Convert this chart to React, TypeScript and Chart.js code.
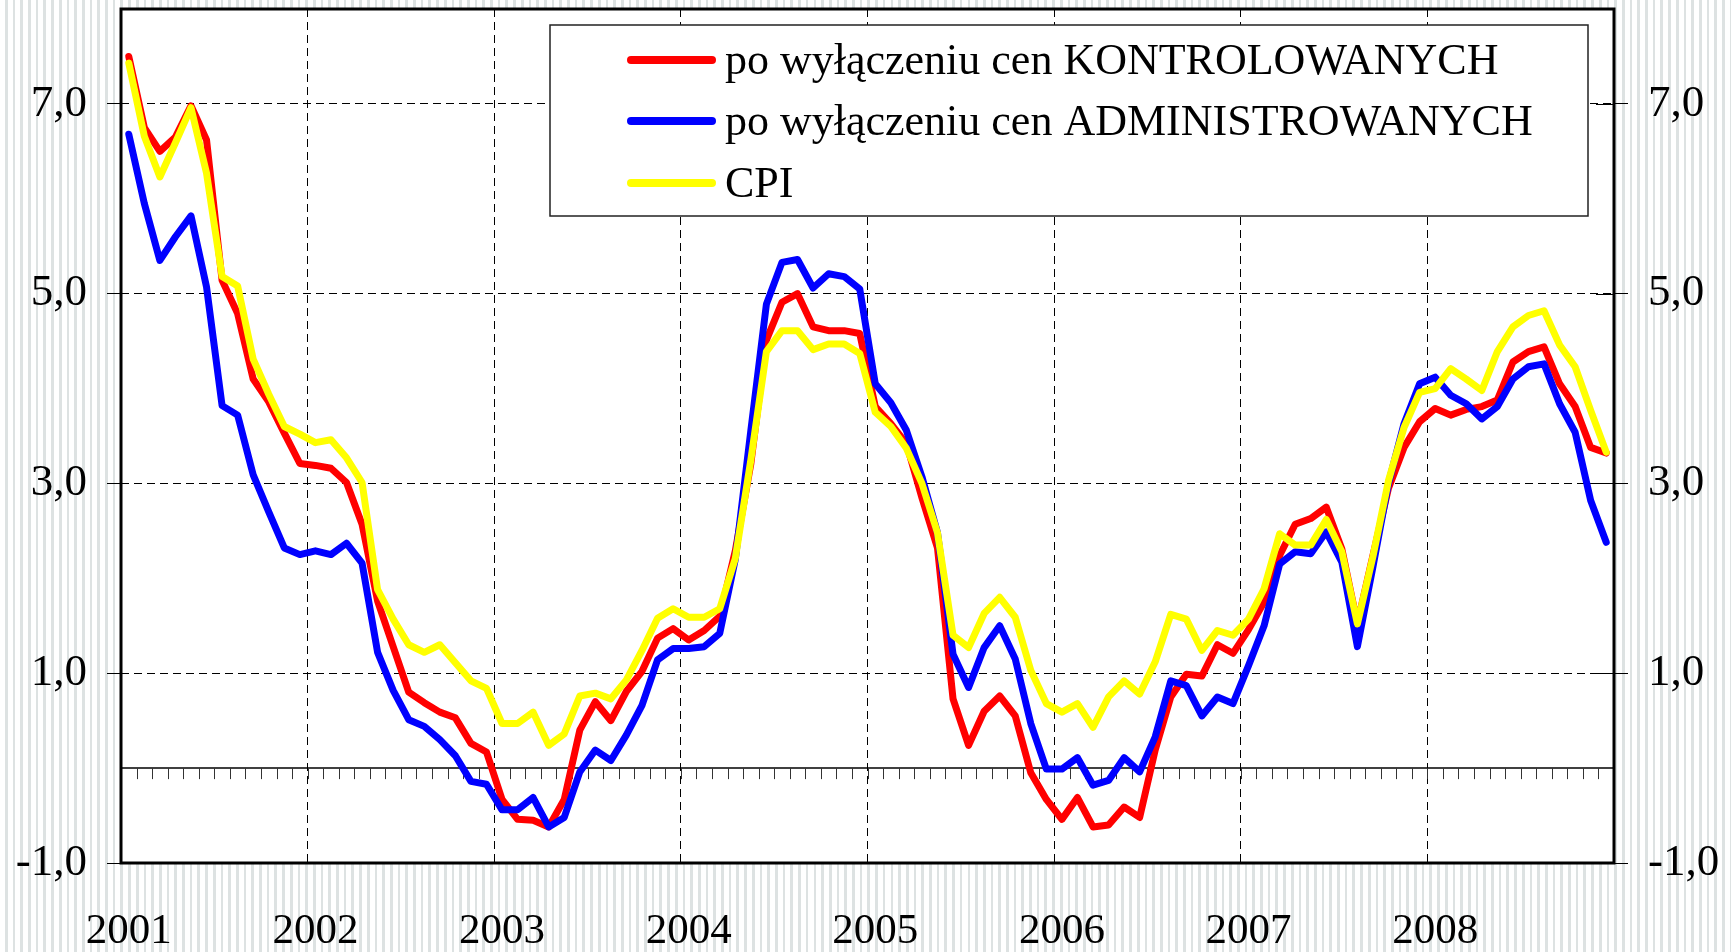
import React, { useEffect, useRef } from 'react';
import { Chart, registerables } from 'chart.js';

Chart.register(...registerables);

// ---------- data ----------
const years = ['2001', '2002', '2003', '2004', '2005', '2006', '2007', '2008'];
const monthsInYear = 12;
const categories = years.flatMap((y) =>
  Array.from({ length: monthsInYear }, (_, m) => `${y}-${String(m + 1).padStart(2, '0')}`)
);

const seriesLabels = [
  'po wyłączeniu cen KONTROLOWANYCH',
  'po wyłączeniu cen ADMINISTROWANYCH',
  'CPI',
];
const seriesColors = ['#ff0000', '#0000ff', '#ffff00'];

const kontrolowane = [
  7.50, 6.75, 6.50, 6.65, 6.98, 6.62, 5.14, 4.79, 4.10, 3.86, 3.53, 3.21,
  3.19, 3.16, 3.01, 2.57, 1.76, 1.28, 0.80, 0.69, 0.59, 0.53, 0.26, 0.17,
  -0.33, -0.54, -0.55, -0.62, -0.33, 0.40, 0.70, 0.50, 0.81, 1.02, 1.37, 1.47,
  1.35, 1.45, 1.60, 2.29, 3.21, 4.51, 4.91, 5.00, 4.65, 4.61, 4.61, 4.58,
  3.81, 3.63, 3.42, 2.85, 2.32, 0.73, 0.24, 0.60, 0.76, 0.55, -0.05, -0.33,
  -0.54, -0.31, -0.62, -0.60, -0.41, -0.52, 0.19, 0.75, 0.99, 0.97, 1.30, 1.21,
  1.46, 1.75, 2.24, 2.57, 2.63, 2.75, 2.31, 1.52, 2.24, 2.95, 3.38, 3.65,
  3.79, 3.72, 3.78, 3.81, 3.88, 4.28, 4.39, 4.44, 4.05, 3.81, 3.38, 3.32,
];

const administrowane = [
  6.68, 5.95, 5.35, 5.60, 5.82, 5.07, 3.82, 3.72, 3.09, 2.70, 2.32, 2.25,
  2.29, 2.25, 2.37, 2.16, 1.22, 0.82, 0.51, 0.44, 0.30, 0.13, -0.14, -0.17,
  -0.44, -0.44, -0.31, -0.62, -0.52, -0.04, 0.19, 0.08, 0.35, 0.66, 1.14, 1.26,
  1.26, 1.28, 1.42, 2.20, 3.56, 4.89, 5.33, 5.36, 5.06, 5.21, 5.18, 5.05,
  4.05, 3.85, 3.56, 3.07, 2.48, 1.20, 0.85, 1.27, 1.50, 1.15, 0.47, -0.01,
  -0.01, 0.11, -0.18, -0.13, 0.11, -0.04, 0.33, 0.92, 0.87, 0.55, 0.75, 0.68,
  1.08, 1.50, 2.15, 2.28, 2.26, 2.49, 2.17, 1.28, 2.12, 3.00, 3.63, 4.05,
  4.12, 3.93, 3.84, 3.68, 3.81, 4.10, 4.23, 4.26, 3.84, 3.54, 2.82, 2.38,
];

const cpi = [
  7.43, 6.66, 6.23, 6.59, 6.96, 6.27, 5.18, 5.08, 4.31, 3.94, 3.60, 3.52,
  3.43, 3.46, 3.27, 3.01, 1.88, 1.57, 1.30, 1.22, 1.30, 1.11, 0.92, 0.84,
  0.47, 0.47, 0.59, 0.24, 0.36, 0.76, 0.79, 0.73, 0.93, 1.24, 1.58, 1.68,
  1.59, 1.59, 1.68, 2.21, 3.25, 4.39, 4.61, 4.61, 4.41, 4.47, 4.47, 4.37,
  3.75, 3.60, 3.37, 3.00, 2.48, 1.40, 1.27, 1.63, 1.80, 1.59, 1.03, 0.68,
  0.59, 0.68, 0.43, 0.75, 0.92, 0.78, 1.12, 1.62, 1.57, 1.24, 1.45, 1.40,
  1.57, 1.89, 2.47, 2.35, 2.35, 2.62, 2.28, 1.52, 2.23, 3.03, 3.59, 3.96,
  4.00, 4.21, 4.10, 3.98, 4.39, 4.65, 4.77, 4.82, 4.46, 4.23, 3.77, 3.33,
];

const yMin = -1;
const yMax = 8;
const yTickValues = [-1, 1, 3, 5, 7];

// ---------- styling ----------
const FONT = "'Liberation Serif', 'Times New Roman', serif";
const W = 1731;
const H = 952;

const plotBackground = {
  id: 'plotBackground',
  beforeDraw(chart: any) {
    const { ctx, chartArea: a } = chart;
    ctx.save();
    ctx.fillStyle = '#ffffff';
    ctx.fillRect(a.left, a.top, a.right - a.left, a.bottom - a.top);
    ctx.restore();
  },
};

const zeroLine = {
  id: 'zeroLine',
  beforeDatasetsDraw(chart: any) {
    const { ctx, chartArea: a, scales } = chart;
    const y0 = scales.y.getPixelForValue(0);
    ctx.save();
    ctx.strokeStyle = '#000';
    ctx.lineWidth = 1.5;
    ctx.beginPath();
    ctx.moveTo(a.left, y0);
    ctx.lineTo(a.right, y0);
    ctx.stroke();
    ctx.lineWidth = 1;
    ctx.strokeStyle = '#333';
    ctx.beginPath();
    for (let i = 1; i < categories.length; i++) {
      const x = Math.round(scales.x.getPixelForValue(i - 0.5)) + 0.5;
      ctx.moveTo(x, y0);
      ctx.lineTo(x, y0 + 11);
    }
    ctx.stroke();
    ctx.restore();
  },
};

const frame = {
  id: 'frame',
  afterDatasetsDraw(chart: any) {
    const { ctx, chartArea: a, scales } = chart;
    ctx.save();
    ctx.strokeStyle = '#000';
    ctx.lineWidth = 3;
    ctx.strokeRect(a.left, a.top, a.right - a.left, a.bottom - a.top);
    ctx.lineWidth = 1;
    ctx.beginPath();
    yTickValues.forEach((v) => {
      if (v === yMin) return;
      const y = Math.round(scales.y.getPixelForValue(v)) + 0.5;
      ctx.moveTo(a.right - 18, y);
      ctx.lineTo(a.right, y);
    });
    ctx.stroke();
    ctx.restore();
  },
};

const LEGEND = {
  left: 550,
  top: 25,
  right: 1588,
  bottom: 216,
  rowCenters: [60, 121, 183],
  sampleFrom: 631,
  sampleTo: 712,
  textX: 725,
};

const boxLegend = {
  id: 'boxLegend',
  afterDraw(chart: any) {
    const { ctx } = chart;
    ctx.save();
    ctx.fillStyle = '#ffffff';
    ctx.fillRect(LEGEND.left, LEGEND.top, LEGEND.right - LEGEND.left, LEGEND.bottom - LEGEND.top);
    ctx.strokeStyle = '#222';
    ctx.lineWidth = 1.5;
    ctx.strokeRect(LEGEND.left, LEGEND.top, LEGEND.right - LEGEND.left, LEGEND.bottom - LEGEND.top);
    chart.data.datasets.forEach((ds: any, i: number) => {
      const y = LEGEND.rowCenters[i];
      ctx.strokeStyle = ds.borderColor;
      ctx.lineWidth = 8;
      ctx.lineCap = 'round';
      ctx.beginPath();
      ctx.moveTo(LEGEND.sampleFrom, y);
      ctx.lineTo(LEGEND.sampleTo, y);
      ctx.stroke();
      ctx.fillStyle = '#000';
      ctx.font = `44px ${FONT}`;
      ctx.textBaseline = 'middle';
      ctx.textAlign = 'left';
      ctx.fillText(ds.label, LEGEND.textX, y + 2);
    });
    ctx.restore();
  },
};

const fmt = (v: number) => v.toFixed(1).replace('.', ',');

export default function App() {
  const ref = useRef<HTMLCanvasElement | null>(null);

  useEffect(() => {
    if (!ref.current) return;
    const seriesValues = [kontrolowane, administrowane, cpi];
    const chart = new Chart(ref.current, {
      type: 'line',
      data: {
        labels: categories,
        datasets: seriesValues.map((vals, i) => ({
          label: seriesLabels[i],
          data: vals,
          borderColor: seriesColors[i],
          backgroundColor: seriesColors[i],
          borderWidth: 7,
          pointRadius: 0,
          tension: 0,
          borderCapStyle: 'round',
          borderJoinStyle: 'round',
          order: seriesValues.length - i,
          yAxisID: 'y',
        })),
      },
      options: {
        responsive: false,
        animation: false,
        devicePixelRatio: 1,
        layout: { padding: { top: 9, left: 0, right: 0, bottom: 0 } },
        plugins: {
          legend: { display: false },
          tooltip: { enabled: false },
          title: { display: false },
        },
        scales: {
          x: {
            type: 'category',
            offset: true,
            border: { display: false, dash: [8, 5] },
            grid: {
              offset: true,
              drawTicks: false,
              lineWidth: 1,
              color: (ctx: any) =>
                ctx.index > 0 && ctx.index < categories.length && ctx.index % monthsInYear === 0
                  ? '#000'
                  : 'rgba(0,0,0,0)',
            },
            ticks: {
              autoSkip: false,
              maxRotation: 0,
              minRotation: 0,
              padding: 43,
              color: '#000',
              font: { family: FONT, size: 43 },
              callback: (_v: any, idx: number) =>
                idx % monthsInYear === 0 ? years[idx / monthsInYear] : '',
            },
            afterFit: (s: any) => {
              s.height = H - 863;
              s.paddingLeft = 0;
              s.paddingRight = 0;
            },
          },
          y: {
            type: 'linear',
            position: 'left',
            min: yMin,
            max: yMax,
            border: { display: false, dash: [8, 5] },
            grid: {
              lineWidth: 1,
              color: (ctx: any) => (ctx.tick && ctx.tick.value === yMin ? 'rgba(0,0,0,0)' : '#000'),
              tickColor: '#000',
              tickLength: 14,
              tickBorderDash: [],
              drawTicks: true,
            },
            ticks: {
              padding: 20,
              color: '#000',
              font: { family: FONT, size: 45 },
              callback: (v: any) => fmt(Number(v)),
            },
            afterBuildTicks: (s: any) => {
              s.ticks = yTickValues.map((v) => ({ value: v }));
            },
            afterFit: (s: any) => {
              s.width = 121;
              s.paddingTop = 0;
              s.paddingBottom = 0;
            },
          },
          y2: {
            type: 'linear',
            position: 'right',
            min: yMin,
            max: yMax,
            border: { display: false },
            grid: {
              drawOnChartArea: false,
              tickColor: '#000',
              tickLength: 14,
              tickBorderDash: [],
              lineWidth: 1,
            },
            ticks: {
              padding: 20,
              color: '#000',
              font: { family: FONT, size: 45 },
              callback: (v: any) => fmt(Number(v)),
            },
            afterBuildTicks: (s: any) => {
              s.ticks = yTickValues.map((v) => ({ value: v }));
            },
            afterFit: (s: any) => {
              s.width = W - 1614;
              s.paddingTop = 0;
              s.paddingBottom = 0;
            },
          },
        },
      } as any,
      plugins: [plotBackground, zeroLine, frame, boxLegend],
    });
    return () => chart.destroy();
  }, []);

  return (
    <div
      style={{
        position: 'fixed',
        left: 0,
        top: 0,
        width: W,
        height: H,
        overflow: 'hidden',
        background:
          'repeating-linear-gradient(90deg, #ffffff 0px, #ffffff 5px, #dde2e2 5px, #dde2e2 7.7px)',
      }}
    >
      <canvas ref={ref} width={W} height={H} style={{ display: 'block', width: W, height: H }} />
    </div>
  );
}
